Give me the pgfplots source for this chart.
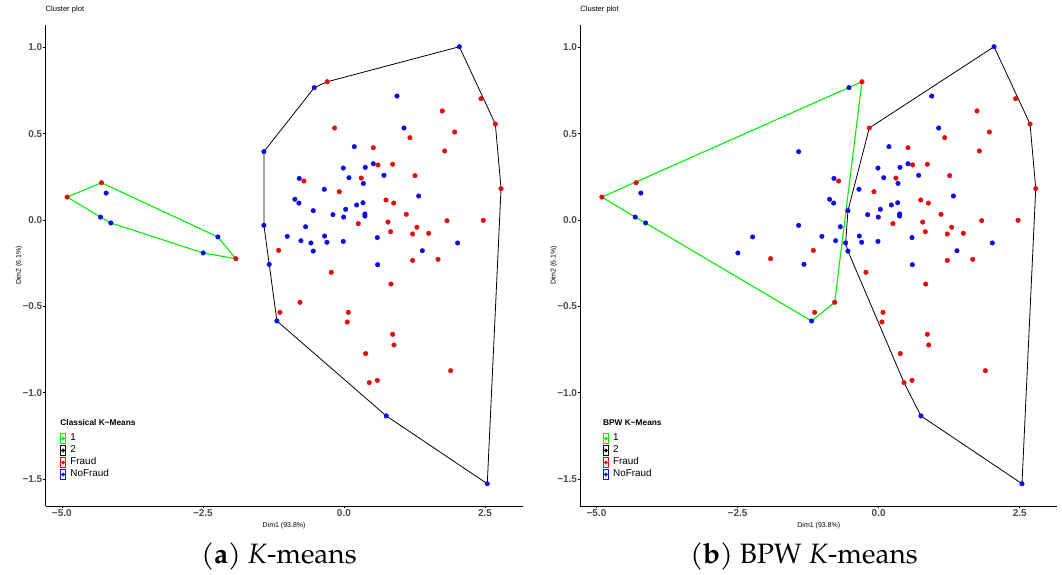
\documentclass[border=0pt]{standalone}
\usepackage{fontspec}
\setmainfont{Liberation Sans}
\newfontfamily\capfont{texgyrepagella}[Extension=.otf, UprightFont=*-regular, BoldFont=*-bold, ItalicFont=*-italic, BoldItalicFont=*-bolditalic]
\usepackage{pgfplots}
\usepackage{pgfplotstable}
\pgfplotsset{compat=1.18}

\definecolor{ptred}{RGB}{228,12,12}
\definecolor{ptblue}{RGB}{14,14,228}
\definecolor{hullgreen}{RGB}{0,240,0}
\definecolor{tickgray}{RGB}{77,77,77}

\pgfplotstableread{
x y
-4.905 0.133
-4.297 0.216
-1.915 -0.224
-0.296 0.801
2.429 0.703
2.683 0.556
1.743 0.632
-0.166 0.533
1.170 0.477
1.962 0.510
0.520 0.419
1.785 0.400
2.784 0.182
0.603 0.319
0.863 0.323
-0.709 0.226
0.307 0.243
1.259 0.257
-0.083 0.164
0.745 0.116
0.881 0.098
1.105 0.033
1.826 -0.004
2.470 -0.002
0.254 -0.021
0.780 -0.012
1.294 -0.042
0.827 -0.068
1.217 -0.081
1.501 -0.077
-1.158 -0.176
1.217 -0.234
1.667 -0.228
-0.225 -0.303
0.833 -0.371
-0.780 -0.477
-1.135 -0.535
0.077 -0.535
0.059 -0.591
0.863 -0.662
0.887 -0.724
0.384 -0.774
1.891 -0.873
0.449 -0.942
0.591 -0.929
}\fraud

\pgfplotstableread{
x y
-4.214 0.156
-4.314 0.017
-4.131 -0.017
-2.234 -0.098
-2.494 -0.191
2.045 1.004
-0.526 0.767
-1.418 0.396
0.940 0.718
1.064 0.533
0.183 0.425
-0.012 0.301
0.378 0.305
0.520 0.326
-0.792 0.241
0.089 0.245
0.343 0.212
0.709 0.259
-0.349 0.178
1.324 0.139
-0.869 0.120
-0.798 0.098
0.225 0.087
0.337 0.100
-0.544 0.054
0.030 0.062
-0.195 0.031
-0.006 0.017
0.372 0.035
0.372 0.023
-1.418 -0.031
-0.680 -0.039
-1.005 -0.095
-0.343 -0.093
-0.762 -0.120
-0.585 -0.133
-0.301 -0.129
-0.012 -0.124
0.591 -0.102
2.015 -0.133
-0.544 -0.180
1.389 -0.178
-1.324 -0.257
0.597 -0.259
-1.188 -0.585
0.750 -1.135
2.540 -1.528
}\nofraud

\pgfplotstableread{
x y
-4.905 0.133
-4.297 0.216
-2.234 -0.098
-1.915 -0.224
-2.494 -0.191
-4.131 -0.017
-4.314 0.017
-4.905 0.133
}\hullAone

\pgfplotstableread{
x y
-1.418 0.396
-0.526 0.767
-0.296 0.801
2.045 1.004
2.683 0.556
2.784 0.182
2.540 -1.528
0.750 -1.135
-1.188 -0.585
-1.324 -0.257
-1.418 -0.031
-1.418 0.396
}\hullAtwo

\pgfplotstableread{
x y
-4.905 0.133
-0.296 0.801
-0.780 -0.477
-1.188 -0.585
-4.131 -0.017
-4.314 0.017
-4.905 0.133
}\hullBone

\pgfplotstableread{
x y
-0.166 0.533
2.045 1.004
2.683 0.556
2.784 0.182
2.540 -1.528
0.750 -1.135
0.449 -0.942
-0.544 -0.180
-0.585 -0.133
-0.544 0.054
-0.166 0.533
}\hullBtwo

\pgfplotsset{
  keybox/.style={legend image code/.code={\draw[line width=0.7pt] (0pt,-5.1pt) rectangle (4.6pt,5.1pt); \fill (2.3pt,0pt) circle (1.8pt);}},
  clusterax/.style={
    scale only axis, width=477.2pt, height=481.2pt,
    xmin=-5.289, xmax=3.168, ymin=-1.657, ymax=1.131,
    axis x line*=bottom, axis y line*=left,
    axis line style={line width=0.9pt, black, -},
    xtick={-5,-2.5,0,2.5}, xticklabels={−5.0,−2.5,0.0,2.5},
    ytick={-1.5,-1,-0.5,0,0.5,1}, yticklabels={−1.5,−1.0,−0.5,0.0,0.5,1.0},
    tick align=outside, major tick length=2.4pt,
    tick style={black, line width=0.6pt},
    ticklabel style={font=\fontsize{10}{10}\selectfont\bfseries, text=tickgray},
    xticklabel style={inner sep=1.2pt},
    yticklabel style={inner sep=0.6pt},
    xlabel={Dim1 (93.8\%)}, ylabel={Dim2 (6.1\%)},
    label style={font=\fontsize{7}{7}\selectfont},
    xlabel style={at={(axis description cs:0.5,-0.0405)}, anchor=center},
    ylabel style={at={(axis description cs:-0.0555,0.5)}, anchor=center},
    title={Cluster plot},
    title style={font=\fontsize{7.6}{7.6}\selectfont, at={(axis description cs:0,1.0189)}, anchor=west, inner sep=0pt},
    legend cell align=left,
    legend style={draw=none, fill=none, anchor=north west, inner sep=0pt, row sep=0pt,
      font=\fontsize{9.9}{9.9}\selectfont,
      nodes={inner sep=0pt, text height=8.2pt, text depth=3.8pt},
      /tikz/every odd column/.append style={column sep=4.6pt}},
    clip=false,
  }
}

\begin{document}
\begin{tikzpicture}
\useasboundingbox (0,0) rectangle (1062pt,574pt);

\begin{axis}[clusterax, at={(45.5pt,68pt)}, anchor=south west,
  legend style={at={(axis description cs:0.031,0.1532)}}]
\addlegendimage{keybox, color=hullgreen}
\addlegendimage{keybox, color=black}
\addlegendimage{keybox, color=ptred}
\addlegendimage{keybox, color=ptblue}
\addplot[hullgreen, line width=1.1pt, forget plot] table[x=x,y=y] {\hullAone};
\addplot[black, line width=0.8pt, forget plot] table[x=x,y=y] {\hullAtwo};
\addplot[only marks, mark=*, mark size=2.3pt, color=ptred, forget plot] table[x=x,y=y] {\fraud};
\addplot[only marks, mark=*, mark size=2.3pt, color=ptblue, forget plot] table[x=x,y=y] {\nofraud};
\legend{1,2,Fraud,NoFraud}
\node[anchor=west, inner sep=0pt, font=\fontsize{8.3}{8.3}\selectfont\bfseries] at (axis description cs:0.031,0.1731) {Classical K−Means};
\end{axis}

\begin{axis}[clusterax, at={(580.2pt,68pt)}, anchor=south west,
  legend style={at={(axis description cs:0.0478,0.1532)}}]
\addlegendimage{keybox, color=hullgreen}
\addlegendimage{keybox, color=black}
\addlegendimage{keybox, color=ptred}
\addlegendimage{keybox, color=ptblue}
\addplot[hullgreen, line width=1.1pt, forget plot] table[x=x,y=y] {\hullBone};
\addplot[black, line width=0.8pt, forget plot] table[x=x,y=y] {\hullBtwo};
\addplot[only marks, mark=*, mark size=2.3pt, color=ptred, forget plot] table[x=x,y=y] {\fraud};
\addplot[only marks, mark=*, mark size=2.3pt, color=ptblue, forget plot] table[x=x,y=y] {\nofraud};
\legend{1,2,Fraud,NoFraud}
\node[anchor=west, inner sep=0pt, font=\fontsize{8.3}{8.3}\selectfont\bfseries] at (axis description cs:0.0478,0.1731) {BPW K−Means};
\end{axis}

\node[anchor=base, inner sep=0pt, font=\capfont\fontsize{28}{28}\selectfont] at (279pt,10.7pt) {(\textbf{a}) \textit{K}-means};
\node[anchor=base, inner sep=0pt, font=\capfont\fontsize{28}{28}\selectfont] at (804pt,10.7pt) {(\textbf{b}) BPW \textit{K}-means};
\end{tikzpicture}
\end{document}
